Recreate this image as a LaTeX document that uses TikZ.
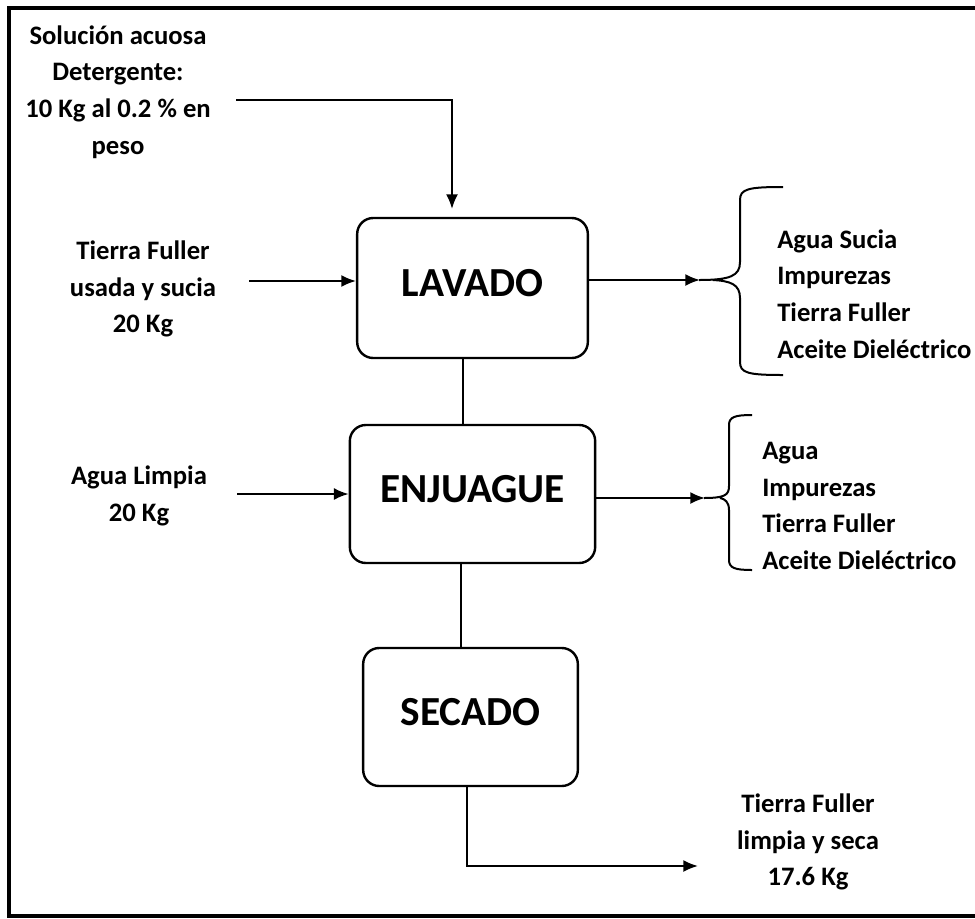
\documentclass[tikz,border=0pt]{standalone}
\usepackage{fontspec}
\setmainfont{Carlito}
\usetikzlibrary{arrows.meta}
\begin{document}
\begin{tikzpicture}[x=0.75pt,y=-0.75pt,
  proc/.style={draw,line width=1.8pt,rounded corners=12pt,font=\fontsize{31}{36}\selectfont\bfseries,text depth=7pt},
  lbl/.style={font=\fontsize{20}{27.4}\selectfont\bfseries,inner sep=0pt},
  conn/.style={line width=1.5pt},
  arr/.style={line width=1.5pt,-{Latex[length=11pt,width=9pt]}},
  brace/.style={line width=1.5pt}]
\useasboundingbox (0,0) rectangle (975,918);
% frame
\draw[line width=3pt] (975,8) -- (9,8) -- (9,916) -- (975,916);
% process boxes
\node[proc,minimum width=173pt,minimum height=105pt] (lav) at (472.5,288) {LAVADO};
\node[proc,minimum width=184pt,minimum height=103.5pt] (enj) at (472.5,494) {ENJUAGUE};
\node[proc,minimum width=161pt,minimum height=103.5pt] (sec) at (470.5,717) {SECADO};
% input labels
\node[lbl,align=center] (in1) at (118,92) {Solución acuosa\\Detergente:\\10 Kg al 0.2 \% en\\peso};
\node[lbl,align=center] (in2) at (143,289) {Tierra Fuller\\usada y sucia\\20 Kg};
\node[lbl,align=center] (in3) at (139,496) {Agua Limpia\\20 Kg};
% output labels
\node[lbl,align=left,anchor=west] (out1) at (777,294) {Agua Sucia\\Impurezas\\Tierra Fuller\\Aceite Dieléctrico};
\node[lbl,align=left,anchor=west] (out2) at (762,506) {Agua\\Impurezas\\Tierra Fuller\\Aceite Dieléctrico};
\node[lbl,align=center] (out3) at (808,842) {Tierra Fuller\\limpia y seca\\17.6 Kg};
% coordinates
\coordinate (s1) at (236,100);
\coordinate (t1) at (452,209);
\coordinate (s2) at (249,281);
\coordinate (s3) at (237,494);
\coordinate (e1) at (700,280);
\coordinate (e2) at (705,498);
\coordinate (x12) at (463,0);
\coordinate (x23) at (461,0);
\coordinate (x3) at (467,0);
\coordinate (e3) at (698,866);
% connectors
\draw[arr] (s1) -| (t1);
\draw[arr] (s2) -- (s2 -| lav.west);
\draw[arr] (s3) -- (s3 -| enj.west);
\draw[conn] (lav.south -| x12) -- (enj.north -| x12);
\draw[conn] (enj.south -| x23) -- (sec.north -| x23);
\draw[arr] (lav.east |- e1) -- (e1);
\draw[arr] (enj.east |- e2) -- (e2);
\draw[arr] (sec.south -| x3) |- (e3);
% braces
\draw[brace] (783,187) .. controls (748,187) and (740,189) .. (740,200) -- (740,262)
  .. controls (740,276) and (730,280) .. (699,280)
  (713,280) .. controls (730,281) and (740,284) .. (740,298) -- (740,362)
  .. controls (740,373) and (748,375) .. (783,375);
\draw[brace] (752,415) .. controls (735,415) and (729,417) .. (729,425) -- (729,486)
  .. controls (729,495) and (725,498) .. (704,498)
  (720,498) .. controls (725,499) and (729,502) .. (729,510) -- (729,560)
  .. controls (729,568) and (735,570) .. (752,570);
\end{tikzpicture}
\end{document}
